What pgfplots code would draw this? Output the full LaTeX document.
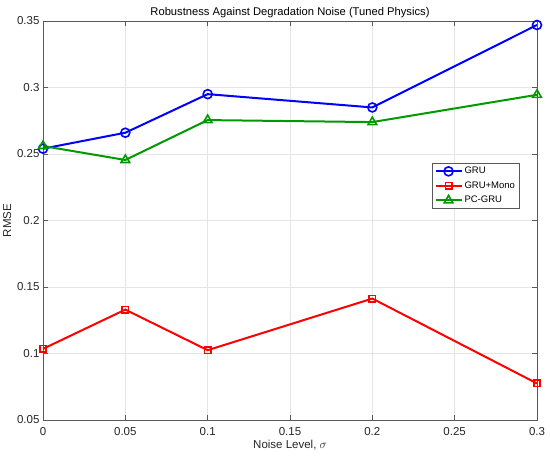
\documentclass[border=0pt]{standalone}
\usepackage{pgfplots}
\pgfplotsset{compat=1.18}
\usepackage{fontspec}
\setmainfont{Liberation Sans}
\definecolor{mgreen}{rgb}{0,0.6,0}
\definecolor{axgray}{rgb}{0.15,0.15,0.15}
\begin{document}
\begin{tikzpicture}[x=1pt,y=1pt]
\path[use as bounding box] (-43,-40) rectangle (507,420);
\begin{axis}[
  at={(0,0)}, anchor=south west,
  scale only axis, width=494pt, height=399pt,
  xmin=0, xmax=0.3, ymin=0.05, ymax=0.35,
  xtick={0,0.05,...,0.3}, ytick={0.05,0.1,...,0.35},
  xticklabels={0,0.05,0.1,0.15,0.2,0.25,0.3},
  yticklabels={0.05,0.1,0.15,0.2,0.25,0.3,0.35},
  tick align=inside, tick pos=both,
  major tick length=5pt,
  grid=major, grid style={gray!20, line width=0.5pt},
  axis line style={gray!70!black, line width=0.6pt},
  every tick/.style={gray!70!black, line width=0.6pt},
  tick label style={font=\fontsize{11.5}{13}\selectfont, text=axgray},
  xticklabel style={yshift=-4pt},
  title={Robustness Against Degradation Noise (Tuned Physics)},
  title style={font=\fontsize{11.2}{13}\selectfont, yshift=-6pt, text=black},
  xlabel={Noise Level, $\sigma$},
  ylabel={RMSE},
  xlabel style={font=\fontsize{11.5}{13}\selectfont, text=axgray, yshift=2pt},
  ylabel style={font=\fontsize{11.5}{13}\selectfont, text=axgray, yshift=-1pt},
  legend style={at={(0.964,0.644)}, anchor=north east, font=\fontsize{9.5}{11}\selectfont,
    draw=gray!70!black, line width=0.5pt, inner sep=2pt, row sep=2.4pt, cells={anchor=west}},
  legend image code/.code={\draw[#1,mark repeat=2,mark phase=2,line width=2pt]
     plot coordinates {(0pt,0pt)(13pt,0pt)(26pt,0pt)};},
]
\addplot[blue, line width=2pt, mark=o, mark size=4.5pt, mark options={line width=1.6pt}]
  coordinates {(0,0.254) (0.05,0.266) (0.1,0.295) (0.2,0.285) (0.3,0.347)};
\addlegendentry{GRU}
\addplot[red, line width=2pt, mark=square, mark size=3.2pt, mark options={line width=1.6pt}]
  coordinates {(0,0.1035) (0.05,0.133) (0.1,0.1025) (0.2,0.1413) (0.3,0.0775)};
\addlegendentry{GRU+Mono}
\addplot[mgreen, line width=2pt, mark=triangle, mark size=5pt, mark options={line width=1.6pt}]
  coordinates {(0,0.256) (0.05,0.2455) (0.1,0.2755) (0.2,0.274) (0.3,0.2945)};
\addlegendentry{PC-GRU}
\end{axis}
\end{tikzpicture}
\end{document}
